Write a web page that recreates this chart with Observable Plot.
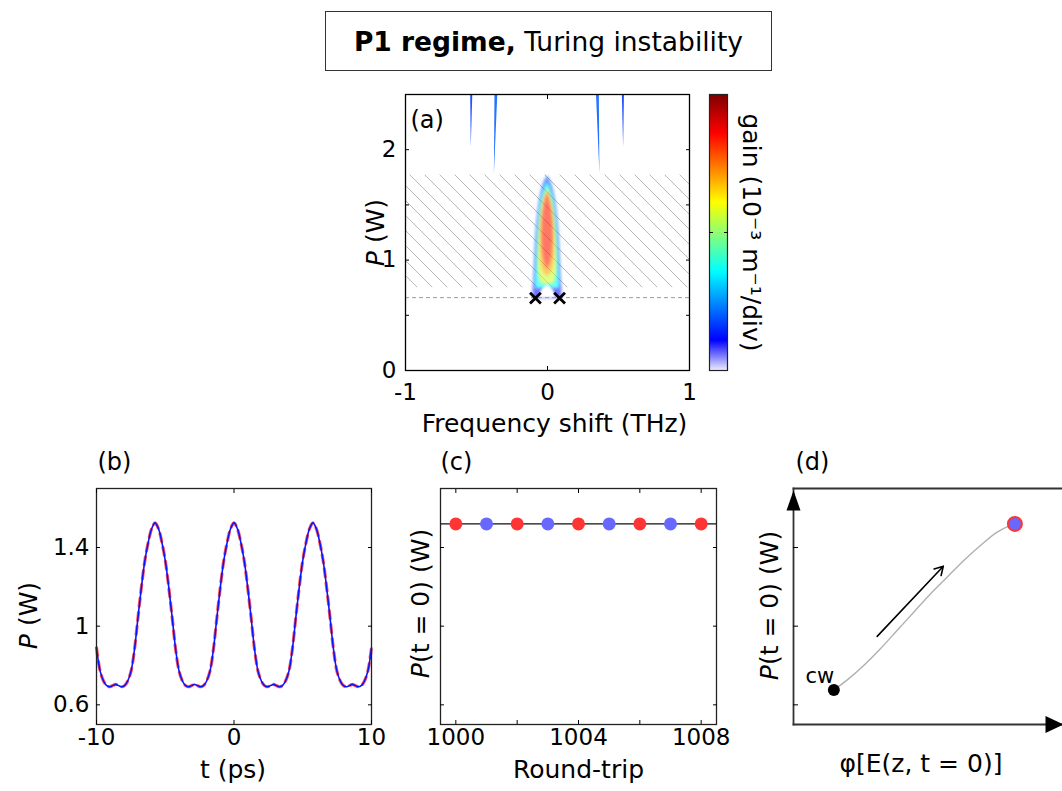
<!DOCTYPE html>
<html><head><meta charset="utf-8">
<script src="https://cdn.jsdelivr.net/npm/d3@7"></script>
<script src="https://cdn.jsdelivr.net/npm/@observablehq/plot@0.6"></script>
<style>
body{margin:0;background:#fff;}
#root{position:relative;width:1062px;height:791px;overflow:hidden;background:#fff;font-family:"DejaVu Sans",sans-serif;}
#title{position:absolute;left:325px;top:11px;width:445px;height:58px;border:1.3px solid #333;display:flex;align-items:center;justify-content:center;font-size:26.5px;color:#000;white-space:nowrap;}
</style></head><body>
<div id="root"><div id="title"><b>P1 regime,</b>&nbsp;Turing instability</div></div>
<script>
// ---------- Panel (a): gain map ----------
const freqTicks = [-1, 0, 1];
const powerTicksA = [0, 1, 2];
const powerMinorA = [0.5, 1, 1.5, 2];
const thresholdP = [0.66];
const hatchBand = [{x1: -1, x2: 1, y1: 0.75, y2: 1.77}];
const onsetFreq = [-0.085, 0.085];
const onsetPower = [0.655, 0.655];
// narrow gain bands at high power: id, gain, P, lower/upper frequency
const streakRows = [
  {id: "o1", g: 0.16, P: 2.5, lo: -0.541, hi: -0.526}, {id: "o1", g: 0.16, P: 2.02, lo: -0.537, hi: -0.537},
  {id: "i1", g: 0.2, P: 2.5, lo: -0.370, hi: -0.350}, {id: "i1", g: 0.2, P: 1.78, lo: -0.374, hi: -0.374},
  {id: "i2", g: 0.2, P: 2.5, lo: 0.345, hi: 0.365}, {id: "i2", g: 0.2, P: 1.78, lo: 0.369, hi: 0.369},
  {id: "o2", g: 0.16, P: 2.5, lo: 0.527, hi: 0.542}, {id: "o2", g: 0.16, P: 2.02, lo: 0.536, hi: 0.536}
];
// main gain lobe: nested gain levels, P and half-width (THz)
const blobRows = [
  ...[[0.655,0.1],[0.77,0.1],[1.0,0.092],[1.25,0.083],[1.4,0.072],[1.55,0.058],[1.67,0.036],[1.72,0.022],[1.765,0]].map(([P,hw]) => ({level: 1, g: 0.2, P, hw})),
  ...[[0.655,0.1],[0.775,0.1]].map(([P,hw]) => ({level: 2, g: 0.1, P, hw})),
  ...[[0.74,0.085],[1.0,0.078],[1.25,0.07],[1.4,0.06],[1.55,0.045],[1.65,0.022],[1.70,0]].map(([P,hw]) => ({level: 3, g: 0.36, P, hw})),
  ...[[0.78,0.04],[0.85,0.066],[1.0,0.068],[1.25,0.061],[1.45,0.048],[1.57,0.03],[1.65,0]].map(([P,hw]) => ({level: 4, g: 0.56, P, hw})),
  ...[[0.85,0],[0.9,0.04],[1.05,0.052],[1.3,0.05],[1.48,0.036],[1.6,0.015],[1.63,0]].map(([P,hw]) => ({level: 5, g: 0.7, P, hw})),
  ...[[0.92,0],[1.0,0.03],[1.2,0.04],[1.4,0.035],[1.52,0.02],[1.6,0]].map(([P,hw]) => ({level: 6, g: 0.83, P, hw}))
];
const archRows = [[0.655,0.062],[0.7,0.052],[0.735,0.038],[0.76,0.018],[0.768,0]].map(([P,hw]) => ({P, hw}));
// colour bar (jet-like with white base)
const jetStops = [0, 0.11, 0.36, 0.61, 0.86, 1];
const jetColors = ["#efefff", "#0000ff", "#00ffff", "#ffff00", "#ff0000", "#800000"];
const colorbarTicks = [0.5];

// ---------- Panel (b): temporal profile ----------
const tPs = [-10,-9.73,-9.48,-9.28,-9.08,-8.88,-8.73,-8.61,-8.49,-8.34,-8.14,-7.94,-7.74,-7.49,-7.24,-6.99,-6.74,-6.49,-6.24,-5.99,-5.74,
  -5.49,-5.24,-4.99,-4.74,-4.49,-4.24,-3.99,-3.74,-3.54,-3.34,-3.14,-2.99,-2.87,-2.75,-2.6,-2.4,-2.2,-2.0,-1.75,-1.5,-1.25,-1.0,-0.75,-0.5,-0.25,0,
  0.25,0.5,0.75,1.0,1.25,1.5,1.75,2.0,2.2,2.4,2.6,2.75,2.87,2.99,3.14,3.34,3.54,3.74,3.99,4.24,4.49,4.74,4.99,5.24,5.49,5.74,
  5.99,6.24,6.49,6.74,6.99,7.24,7.49,7.74,7.94,8.14,8.34,8.49,8.61,8.73,8.88,9.08,9.28,9.48,9.73,10];
const powerBlue = [0.89,0.77,0.72,0.699,0.692,0.696,0.701,0.704,0.701,0.696,0.692,0.699,0.72,0.77,0.88,1.04,1.195,1.33,1.425,1.495,1.525,
  1.495,1.425,1.33,1.195,1.04,0.88,0.77,0.72,0.699,0.692,0.696,0.701,0.704,0.701,0.696,0.692,0.699,0.72,0.77,0.88,1.04,1.195,1.33,1.425,1.495,1.525,
  1.495,1.425,1.33,1.195,1.04,0.88,0.77,0.72,0.699,0.692,0.696,0.701,0.704,0.701,0.696,0.692,0.699,0.72,0.77,0.88,1.04,1.195,1.33,1.425,1.495,1.525,
  1.495,1.425,1.33,1.195,1.04,0.88,0.77,0.72,0.699,0.692,0.696,0.701,0.704,0.701,0.696,0.692,0.699,0.72,0.77,0.89];
const powerRed = powerBlue.slice();
const timeTicks = [-10, 0, 10];
const powerTicks = [0.6, 1, 1.4];

// ---------- Panel (c): peak power per round trip ----------
const roundTrips = [1000,1001,1002,1003,1004,1005,1006,1007,1008];
const peakPower = [1.52,1.52,1.52,1.52,1.52,1.52,1.52,1.52,1.52];
const roundSeries = ["odd","even","odd","even","odd","even","odd","even","odd"];
const roundTicks = [1000,1002,1004,1006,1008];
const roundLabels = [1000,1004,1008];

// ---------- Panel (d): phase-space trajectory ----------
const phiPath = [0.15,0.2,0.261,0.323,0.385,0.447,0.509,0.571,0.633,0.695,0.757,0.819];
const powerPath = [0.676,0.727,0.80,0.885,0.978,1.071,1.164,1.249,1.334,1.41,1.478,1.52];
const cwPoint = [{phi: 0.15, P: 0.676, label: "cw"}];
const endPoint = [{phi: 0.823, P: 1.52}];
const driftArrow = [{phi1: 0.311, P1: 0.948, phi2: 0.557, P2: 1.305}];

// ---------- helpers ----------
const root = document.getElementById("root");
const FONT = "DejaVu Sans";
const baseStyle = {fontFamily: FONT, fontSize: "23px", color: "#000", background: "transparent", overflow: "visible"};
const noText = () => "";
const TK = 4; // inward tick length
function inX(ticks) {
  return [Plot.axisX({anchor: "bottom", ticks, tickSize: TK, dy: -TK, tickFormat: noText, label: null}),
          Plot.axisX({anchor: "top", ticks, tickSize: TK, dy: TK, tickFormat: noText, label: null})];
}
function inY(ticks, both = true, size = TK) {
  const a = [Plot.axisY({anchor: "left", ticks, tickSize: size, dx: size, tickFormat: noText, label: null})];
  if (both) a.push(Plot.axisY({anchor: "right", ticks, tickSize: size, dx: -size, tickFormat: noText, label: null}));
  return a;
}
function place(svg, left, top) {
  svg.style.position = "absolute"; svg.style.left = left + "px"; svg.style.top = top + "px";
  root.appendChild(svg);
  svg.querySelectorAll("text").forEach(t => {
    const s = t.textContent;
    if (t.children.length === 0 && (s.startsWith("P(") || s.startsWith("P ("))) {
      t.textContent = "";
      const ts = document.createElementNS("http://www.w3.org/2000/svg", "tspan");
      ts.setAttribute("font-style", "italic"); ts.textContent = "P";
      t.appendChild(ts); t.appendChild(document.createTextNode(s.slice(1)));
    }
  });
  return svg;
}
const jetScale = {type: "linear", domain: jetStops, range: jetColors};

// ---------- Panel (a) ----------
const plotA = Plot.plot({
  width: 420, height: 380, marginLeft: 105, marginRight: 31, marginTop: 14, marginBottom: 90,
  style: baseStyle,
  x: {domain: [-1, 1]}, y: {domain: [0, 2.5]},
  color: jetScale,
  marks: [
    Plot.rect(hatchBand, {x1: "x1", x2: "x2", y1: "y1", y2: "y2", fill: "url(#hatchA)"}),
    Plot.areaX(streakRows, {y: "P", x1: "lo", x2: "hi", z: "id", fill: "g", className: "gain-streaks"}),
    Plot.areaX(blobRows, {y: "P", x1: d => -d.hw, x2: d => d.hw, z: "level", fill: "g", curve: "basis", className: "gain-blob"}),
    Plot.areaX(archRows, {y: "P", x1: d => -d.hw, x2: d => d.hw, fill: "white", curve: "basis", className: "gain-hole"}),
    Plot.ruleY(thresholdP, {stroke: "#9a9a9a", strokeDasharray: "4,3", strokeWidth: 1}),
    Plot.dot(onsetFreq.map((f, i) => ({f, P: onsetPower[i]})), {x: "f", y: "P", symbol: "times", r: 5, stroke: "black", strokeWidth: 2.8}),
    Plot.frame({stroke: "black", strokeWidth: 1.3}),
    ...inY(powerMinorA), ...inX(freqTicks),
    Plot.axisY({anchor: "left", ticks: powerTicksA, tickSize: 0, tickPadding: 9, tickFormat: d => String(d), label: null}),
    Plot.axisX({anchor: "bottom", ticks: freqTicks, tickSize: 0, tickPadding: 13, tickFormat: d => String(d), label: null}),
    Plot.text(["(a)"], {text: d => d, frameAnchor: "top-left", dx: 5, dy: 33, lineAnchor: "bottom", textAnchor: "start", fontSize: 24}),
    Plot.text(["P (W)"], {text: d => d, frameAnchor: "left", dx: -30, rotate: -90, textAnchor: "middle", lineAnchor: "middle", fontSize: 25}),
    Plot.text(["Frequency shift (THz)"], {text: d => d, frameAnchor: "bottom", dx: 7, dy: 61, lineAnchor: "bottom", textAnchor: "middle", fontSize: 25})
  ]
});
{
  const defs = document.createElementNS("http://www.w3.org/2000/svg", "defs");
  defs.innerHTML = '<pattern id="hatchA" patternUnits="userSpaceOnUse" width="15" height="15"><path d="M-4,-4 L19,19" stroke="#b8b8b8" stroke-width="1"/></pattern>';
  plotA.insertBefore(defs, plotA.firstChild);
  const blob = plotA.querySelector("g.gain-blob");
  if (blob) { blob.setAttribute("opacity", "0.6"); blob.style.filter = "blur(1.6px)"; }
  const hole = plotA.querySelector("g.gain-hole");
  if (hole) hole.style.filter = "blur(0.8px)";
  const st = plotA.querySelector("g.gain-streaks");
  if (st) { st.setAttribute("opacity", "0.85"); st.style.filter = "blur(0.5px)"; }
}
place(plotA, 300, 80);

// ---------- colour bar ----------
const plotCB = Plot.plot({
  width: 90, height: 300, marginLeft: 19, marginRight: 53, marginTop: 14, marginBottom: 10,
  style: baseStyle,
  x: {domain: [0, 1], axis: null}, y: {domain: [0, 1], axis: null},
  color: jetScale,
  marks: [
    Plot.raster({x1: 0, x2: 1, y1: 0, y2: 1, width: 1, height: 276, fill: (x, y) => y, imageRendering: "auto"}),
    Plot.frame({stroke: "#222", strokeWidth: 1.2}),
    ...inY(colorbarTicks),
    Plot.text(["gain (10⁻³ m⁻¹/div)"], {text: d => d, frameAnchor: "right", dx: 23, rotate: 90, textAnchor: "middle", lineAnchor: "middle", fontSize: 25})
  ]
});
place(plotCB, 690, 80);

// ---------- Panel (b) ----------
const dataB = tPs.map((t, i) => ({t, blue: powerBlue[i], red: powerRed[i]}));
const plotB = Plot.plot({
  width: 390, height: 350, marginLeft: 96, marginRight: 19, marginTop: 48, marginBottom: 66,
  style: baseStyle,
  x: {domain: [-10, 10]}, y: {domain: [0.5, 1.7]},
  marks: [
    Plot.line(dataB, {x: "t", y: "red", curve: "catmull-rom", stroke: "#ff3b3b", strokeWidth: 3.2, strokeDasharray: "8,6", strokeOpacity: 0.85}),
    Plot.line(dataB, {x: "t", y: "blue", curve: "catmull-rom", stroke: "#0a14ff", strokeWidth: 1.6}),
    Plot.frame({stroke: "#222", strokeWidth: 1.3}),
    ...inY(powerTicks), ...inX(timeTicks),
    Plot.axisY({anchor: "left", ticks: powerTicks, tickSize: 0, tickPadding: 7, tickFormat: d => String(d), label: null}),
    Plot.axisX({anchor: "bottom", ticks: timeTicks, tickSize: 0, tickPadding: 4, tickFormat: d => String(d), label: null}),
    Plot.text(["(b)"], {text: d => d, frameAnchor: "top-left", dx: 1, dy: -19, lineAnchor: "bottom", textAnchor: "start", fontSize: 24}),
    Plot.text(["P (W)"], {text: d => d, frameAnchor: "left", dx: -68, dy: 9, rotate: -90, textAnchor: "middle", lineAnchor: "middle", fontSize: 25}),
    Plot.text(["t (ps)"], {text: d => d, frameAnchor: "bottom", dx: -1, dy: 53, lineAnchor: "bottom", textAnchor: "middle", fontSize: 25})
  ]
});
place(plotB, 0, 440);

// ---------- Panel (c) ----------
const dataC = roundTrips.map((r, i) => ({r, P: peakPower[i], s: roundSeries[i]}));
const plotC = Plot.plot({
  width: 340, height: 350, marginLeft: 50, marginRight: 14, marginTop: 48, marginBottom: 66,
  style: baseStyle,
  x: {domain: [999.5, 1008.5]}, y: {domain: [0.5, 1.7]},
  color: {domain: ["odd", "even"], range: ["#ff3535", "#6868ff"]},
  marks: [
    Plot.ruleY([peakPower[0]], {stroke: "#111", strokeWidth: 1.2}),
    Plot.dot(dataC, {x: "r", y: "P", fill: "s", r: 6.5}),
    Plot.frame({stroke: "#222", strokeWidth: 1.3}),
    ...inY(powerTicks), ...inX(roundTicks),
    Plot.axisX({anchor: "bottom", ticks: roundLabels, tickSize: 0, tickPadding: 4, tickFormat: d => String(d), label: null}),
    Plot.text(["(c)"], {text: d => d, frameAnchor: "top-left", dx: 0, dy: -19, lineAnchor: "bottom", textAnchor: "start", fontSize: 24}),
    Plot.text(["P(t = 0) (W)"], {text: d => d, frameAnchor: "left", dx: -20, dy: -3, rotate: -90, textAnchor: "middle", lineAnchor: "middle", fontSize: 25}),
    Plot.text(["Round-trip"], {text: d => d, frameAnchor: "bottom", dy: 53, lineAnchor: "bottom", textAnchor: "middle", fontSize: 25})
  ]
});
place(plotC, 390, 440);

// ---------- Panel (d) ----------
const arrowUp = {draw(ctx, size) { const r = Math.sqrt(size / Math.PI); ctx.moveTo(0, -r); ctx.lineTo(0.7 * r, r); ctx.lineTo(-0.7 * r, r); ctx.closePath(); }};
const arrowRight = {draw(ctx, size) { const r = Math.sqrt(size / Math.PI); ctx.moveTo(r, 0); ctx.lineTo(-r, 0.95 * r); ctx.lineTo(-r, -0.95 * r); ctx.closePath(); }};
const dataD = phiPath.map((phi, i) => ({phi, P: powerPath[i]}));
const plotD = Plot.plot({
  width: 322, height: 350, marginLeft: 53, marginRight: 0, marginTop: 48, marginBottom: 66,
  style: baseStyle,
  x: {domain: [0, 1], axis: null}, y: {domain: [0.5, 1.7]},
  marks: [
    Plot.frame({anchor: "top", stroke: "#333", strokeWidth: 1.8}),
    Plot.frame({anchor: "left", stroke: "#333", strokeWidth: 1.8}),
    Plot.frame({anchor: "bottom", stroke: "#333", strokeWidth: 1.8}),
    ...inY(powerTicks, false, 5),
    Plot.dot([0], {frameAnchor: "top-left", dy: 12, symbol: arrowUp, r: 10, fill: "black", stroke: "none"}),
    Plot.dot([0], {frameAnchor: "bottom-right", dx: -8, symbol: arrowRight, r: 9, fill: "black", stroke: "none"}),
    Plot.line(dataD, {x: "phi", y: "P", curve: "catmull-rom", stroke: "#b0b0b0", strokeWidth: 1.4}),
    Plot.arrow(driftArrow, {x1: "phi1", y1: "P1", x2: "phi2", y2: "P2", stroke: "black", strokeWidth: 1.6, headLength: 9}),
    Plot.dot(cwPoint, {x: "phi", y: "P", r: 6, fill: "black"}),
    Plot.text(cwPoint, {x: "phi", y: "P", text: "label", dx: -14, dy: -7, lineAnchor: "bottom", textAnchor: "middle", fontSize: 21}),
    Plot.dot(endPoint, {x: "phi", y: "P", r: 7, fill: "#6868ff", stroke: "#ff3535", strokeWidth: 2}),
    Plot.text(["(d)"], {text: d => d, frameAnchor: "top-left", dx: 2, dy: -19, lineAnchor: "bottom", textAnchor: "start", fontSize: 24}),
    Plot.text(["P(t = 0) (W)"], {text: d => d, frameAnchor: "left", dx: -24, dy: -1, rotate: -90, textAnchor: "middle", lineAnchor: "middle", fontSize: 25}),
    Plot.text(["φ[E(z, t = 0)]"], {text: d => d, frameAnchor: "bottom", dx: -7, dy: 47, lineAnchor: "bottom", textAnchor: "middle", fontSize: 25})
  ]
});
place(plotD, 740, 440);
</script>
</body></html>
